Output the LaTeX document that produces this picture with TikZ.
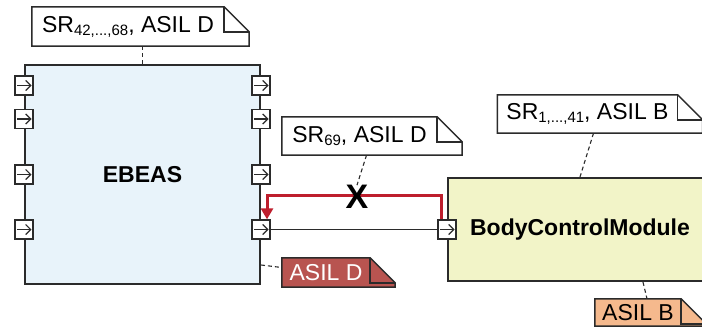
\documentclass[tikz,border=0pt]{standalone}
\usepackage{fontspec}
\setmainfont{Liberation Sans}
\usetikzlibrary{arrows.meta,positioning}
\pgfdeclarelayer{background}
\pgfsetlayers{background,main}
\definecolor{ebeasfill}{HTML}{E8F3FA}
\definecolor{bcmfill}{HTML}{F2F4C8}
\definecolor{flowred}{HTML}{BE1E2D}
\definecolor{asildfill}{HTML}{B85450}
\definecolor{asilbfill}{HTML}{F5B98D}
\definecolor{edge}{HTML}{2B2B2B}
\newcommand{\sub}[1]{\raisebox{-3pt}{\fontsize{15}{15}\selectfont #1}}
% dog-eared note outline round a named node
\newcommand{\foldnote}[2]{%
  \draw[edge,line width=1.5pt,fill=#2] (#1.north west) -- (#1.north east) -- ([xshift=25pt,yshift=-25pt]#1.north east) -- ([xshift=25pt]#1.south east) -- (#1.south west) -- cycle;
  \draw[edge,line width=1.5pt] (#1.north east) -- ([yshift=-25pt]#1.north east) -- ([xshift=25pt,yshift=-25pt]#1.north east);}
\tikzset{
  block/.style={draw=edge,line width=2pt,inner sep=0pt,font=\fontsize{23}{27}\selectfont\bfseries},
  port/.style={draw=edge,line width=1.3pt,fill=white,minimum width=18pt,minimum height=19pt,inner sep=0pt,
    path picture={\draw[edge,line width=1.2pt,-{Straight Barb[length=5pt,width=10pt]}] ([xshift=2pt]path picture bounding box.west) -- ([xshift=-1.5pt]path picture bounding box.east);}},
  note/.style={inner sep=0pt,font=\fontsize{23}{27}\selectfont},
  link/.style={edge,line width=1.1pt,dash pattern=on 4pt off 3pt},
}
\begin{document}
\begin{tikzpicture}[x=1pt,y=-1pt]
\path[use as bounding box] (0,0) rectangle (702,329);
% blocks
\node[block,fill=ebeasfill,minimum width=235pt,minimum height=219pt] (ebeas) at (142.5,174.5) {EBEAS};
\node[block,fill=bcmfill,minimum width=264pt,minimum height=103pt] (bcm) at (580,229.5) {BodyControlModule};
% ports
\foreach \i/\y in {1/85.5,2/119,3/174.5,4/229.5} {
  \node[port] (wp\i) at (ebeas.west |- 0,\y) {};
  \node[port] (ep\i) at (ebeas.east |- 0,\y) {};
}
\node[port] (bp) at (bcm.west |- ep4) {};
% connectors
\draw[edge,line width=1.3pt] (ep4.east) -- (bp.west);
\coordinate (bend) at (357,195);
\draw[flowred,line width=3pt,-{Triangle[length=11pt,width=12pt]}] ([xshift=-6pt]bp.north) |- (bend) -| ([xshift=6pt]ep4.north);
\node[inner sep=0pt,font=\fontsize{34}{34}\selectfont\bfseries] (cross) at (357,197) {X};
% notes
\node[note,minimum width=192pt,minimum height=39pt] (srd) at (128,26.5) {SR\sub{42,...,68}, ASIL D};
\node[note,minimum width=155pt,minimum height=38pt] (srx) at (359.5,136) {SR\sub{69}, ASIL D};
\node[note,minimum width=180pt,minimum height=38pt] (srb) at (587.5,114) {SR\sub{1,...,41}, ASIL B};
\node[note,minimum width=88pt,minimum height=29pt,text=white] (asild) at (326,272.5) {ASIL D};
\node[note,minimum width=86pt,minimum height=27pt] (asilb) at (638,312.5) {ASIL B};
\begin{pgfonlayer}{background}
\foreach \n/\c in {srd/white,srx/white,srb/white,asild/asildfill,asilb/asilbfill} {\foldnote{\n}{\c}}
\end{pgfonlayer}
% note links
\draw[link] (ebeas.north) -- (ebeas.north |- srd.south);
\draw[link] ([xshift=7pt]srx.south) -- (cross.north);
\draw[link] ([xshift=6pt]srb.south) -- (bcm.north);
\draw[link] ([xshift=63pt]bcm.south) -- ([xshift=9pt]asilb.north);
\draw[link] ([yshift=20pt]ebeas.south east) -- ([yshift=5pt]asild.west);
\end{tikzpicture}
\end{document}
